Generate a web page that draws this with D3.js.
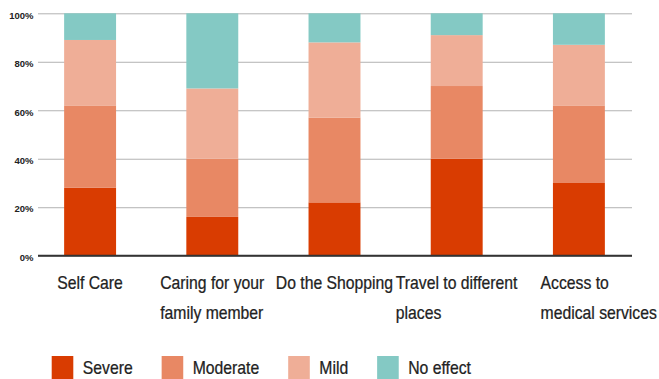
<!DOCTYPE html>
<html>
<head>
<meta charset="utf-8">
<script src="https://cdn.jsdelivr.net/npm/d3@7/dist/d3.min.js"></script>
<style>
  html, body { margin: 0; padding: 0; background: #fff; }
  svg { display: block; }
  text { font-family: "Liberation Sans", Arial, sans-serif; }
</style>
</head>
<body>
<script>
// Share of respondents by level of impact on each daily activity (%)
const categories = [
  "Self Care",
  "Caring for your\nfamily member",
  "Do the Shopping",
  "Travel to different\nplaces",
  "Access to\nmedical services"
];
const seriesNames = ["Severe", "Moderate", "Mild", "No effect"];
const severe   = [28, 16, 22, 40, 30];
const moderate = [34, 24, 35, 30, 32];
const mild     = [27, 29, 31, 21, 25];
const noEffect = [11, 31, 12,  9, 13];
const yTicks = [0, 20, 40, 60, 80, 100];

const colors = ["#d93c01", "#e88864", "#efae97", "#84c9c4"];

const W = 659, H = 379;
const svg = d3.select("body").append("svg")
  .attr("width", W).attr("height", H);

const rows = categories.map((c, i) => ({
  category: c,
  "Severe": severe[i],
  "Moderate": moderate[i],
  "Mild": mild[i],
  "No effect": noEffect[i]
}));

const x = d3.scaleBand()
  .domain(categories)
  .range([29, 640])
  .paddingInner(0.575)
  .paddingOuter(0.2875);

const y = d3.scaleLinear().domain([0, 100]).range([255.7, 13.3]);

const color = d3.scaleOrdinal().domain(seriesNames).range(colors);

// Gridlines and percentage tick labels
const gridLeft = 38, gridRight = 632;
const yAxis = svg.append("g")
  .attr("transform", `translate(${gridLeft},0)`)
  .call(d3.axisLeft(y)
    .tickValues(yTicks)
    .tickFormat(d => d + "%")
    .tickSizeInner(-(gridRight - gridLeft))
    .tickSizeOuter(0)
    .tickPadding(4.5));
yAxis.select(".domain").remove();
yAxis.selectAll(".tick line")
  .attr("stroke", "#b3b3b3")
  .attr("stroke-width", 1);
yAxis.selectAll(".tick text")
  .attr("font-family", "'Liberation Sans', Arial, sans-serif")
  .attr("font-size", 9.5)
  .attr("font-weight", "bold")
  .attr("fill", "#222")
  .attr("transform", "translate(0,1.7)");

// Stacked bars
const stacked = d3.stack().keys(seriesNames)(rows);
svg.append("g")
  .selectAll("g")
  .data(stacked)
  .join("g")
  .attr("fill", d => color(d.key))
  .selectAll("rect")
  .data(d => d)
  .join("rect")
  .attr("x", d => x(d.data.category))
  .attr("width", x.bandwidth())
  .attr("y", d => y(d[1]))
  .attr("height", d => y(d[0]) - y(d[1]));

// Baseline
svg.append("line")
  .attr("x1", gridLeft).attr("x2", gridRight)
  .attr("y1", y(0)).attr("y2", y(0))
  .attr("stroke", "#333").attr("stroke-width", 2);

// Category labels: left-aligned lines, first line centred under each bar,
// kept inside the right edge
const squeeze = 0.9;
const labelSize = 17.5;
const lineY = [289.3, 319.3];
categories.forEach(c => {
  const g = svg.append("g");
  const lines = c.split("\n");
  const texts = lines.map((ln, i) => g.append("text")
    .attr("x", 0)
    .attr("y", lineY[i])
    .attr("font-size", labelSize)
    .attr("fill", "#222")
    .attr("stroke", "#222")
    .attr("stroke-width", 0.25)
    .text(ln));
  const widths = texts.map(t => t.node().getComputedTextLength() * squeeze);
  const cx = x(c) + x.bandwidth() / 2;
  const left = Math.min(cx - widths[0] / 2, W - 2 - d3.max(widths));
  g.attr("transform", `translate(${left},0) scale(${squeeze},1)`);
});

// Legend
const legend = svg.append("g");
let lx = 51.7;
seriesNames.forEach(name => {
  legend.append("rect")
    .attr("x", lx).attr("y", 356)
    .attr("width", 21.6).attr("height", 26)
    .attr("fill", color(name));
  const tx = lx + 21.6 + 9.5;
  const t = legend.append("text")
    .attr("transform", `translate(${tx},374) scale(${squeeze},1)`)
    .attr("font-size", labelSize)
    .attr("fill", "#222")
    .attr("stroke", "#222")
    .attr("stroke-width", 0.25)
    .text(name);
  lx = tx + t.node().getComputedTextLength() * squeeze + 29;
});
</script>
</body>
</html>
